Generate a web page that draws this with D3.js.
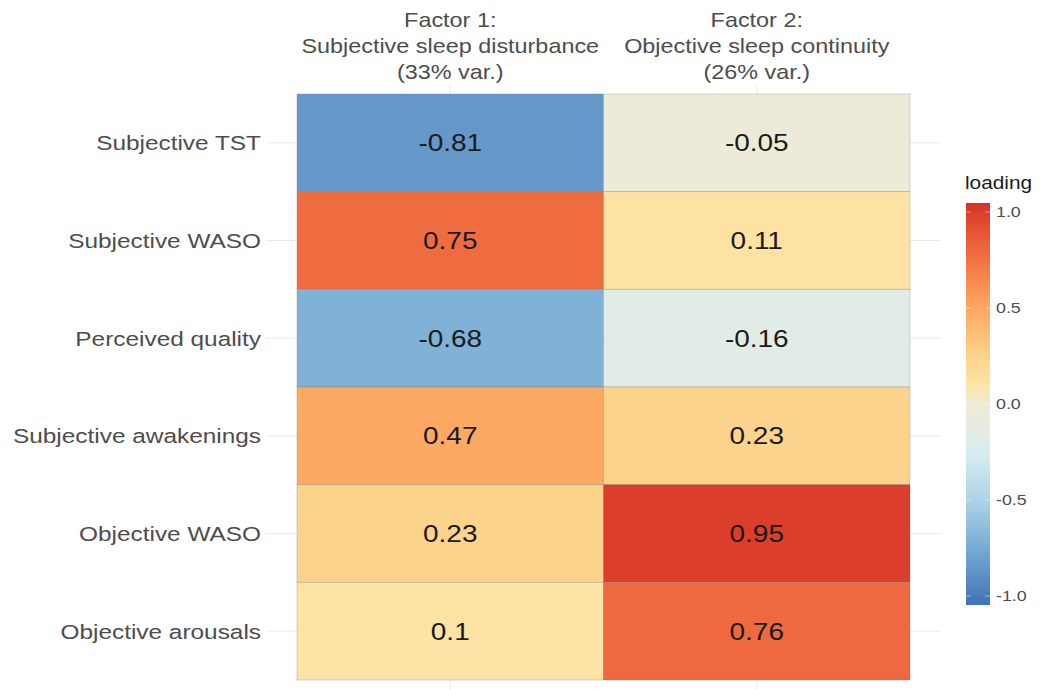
<!DOCTYPE html>
<html><head><meta charset="utf-8">
<script src="https://cdn.jsdelivr.net/npm/d3@7"></script>
<style>body{margin:0;background:#fff;} text{font-family:"Liberation Sans",Arial,sans-serif;}</style>
</head><body><svg id="c" width="1050" height="690"></svg>
<script>
const variables = ["Subjective TST","Subjective WASO","Perceived quality","Subjective awakenings","Objective WASO","Objective arousals"];
const factors = ["Factor 1","Factor 2"];
const factorLabels = [["Factor 1:","Subjective sleep disturbance","(33% var.)"],["Factor 2:","Objective sleep continuity","(26% var.)"]];
const factor1 = [-0.81, 0.75, -0.68, 0.47, 0.23, 0.1];
const factor2 = [-0.05, 0.11, -0.16, 0.23, 0.95, 0.76];
const legendTicks = [1.0, 0.5, 0.0, -0.5, -1.0];
const paletteStops = [-1, -0.75, -0.5, -0.25, 0, 0.1, 0.25, 0.5, 0.75, 1];
const paletteColors = ["#4072b4","#70a5d0","#a8d0e5","#d8ecf2","#f1ebd4","#fde3a6","#fcd188","#fda35e","#ef6b40","#d73027"];

const cells = [];
variables.forEach((v,i)=>{ cells.push({v, f:factors[0], val:factor1[i]}); cells.push({v, f:factors[1], val:factor2[i]}); });

const svg = d3.select("#c");
const color = d3.scaleLinear().domain(paletteStops).range(paletteColors).interpolate(d3.interpolateLab).clamp(true);
const SX = 1.19;

const tileL = 297, tileR = 910, tileT = 94, tileB = 680;
const x = d3.scaleBand().domain(factors).range([tileL, tileR]);
const y = d3.scaleBand().domain(variables).range([tileT, tileB]);
const padX = x.bandwidth()*0.1, padY = y.bandwidth()*0.1;

// grid lines
svg.append("g").selectAll("line").data(variables).join("line")
  .attr("x1", tileL - padX).attr("x2", tileR + padX)
  .attr("y1", d=>y(d)+y.bandwidth()/2).attr("y2", d=>y(d)+y.bandwidth()/2)
  .attr("stroke","#ebebeb").attr("stroke-width",1);
svg.append("g").selectAll("line").data(factors).join("line")
  .attr("x1", d=>x(d)+x.bandwidth()/2).attr("x2", d=>x(d)+x.bandwidth()/2)
  .attr("y1", tileT - padY).attr("y2", tileB + padY)
  .attr("stroke","#ebebeb").attr("stroke-width",1);

// tiles
svg.append("g").selectAll("rect").data(cells).join("rect")
  .attr("x", d=>x(d.f)).attr("y", d=>y(d.v))
  .attr("width", x.bandwidth()).attr("height", y.bandwidth())
  .attr("fill", d=>color(d.val))
  .attr("stroke","rgba(120,110,100,0.35)").attr("stroke-width",0.8);

// values
svg.append("g").selectAll("text").data(cells).join("text")
  .attr("transform", d=>`translate(${x(d.f)+x.bandwidth()/2},${y(d.v)+y.bandwidth()/2}) scale(${SX},1)`)
  .attr("text-anchor","middle").attr("dy","0.36em")
  .attr("font-size",23.5).attr("fill","#1a1a1a")
  .text(d=>String(d.val));

// y labels
svg.append("g").selectAll("text").data(variables).join("text")
  .attr("transform", d=>`translate(261,${y(d)+y.bandwidth()/2}) scale(${SX},1)`)
  .attr("text-anchor","end").attr("dy","0.36em")
  .attr("font-size",20.5).attr("fill","#4d4d4d")
  .text(d=>d);

// x labels (top)
const xl = svg.append("g").selectAll("text").data(factors).join("text")
  .attr("transform", d=>`translate(${x(d)+x.bandwidth()/2},0) scale(${SX-0.02},1)`)
  .attr("text-anchor","middle").attr("font-size",20).attr("fill","#4d4d4d");
xl.each(function(d,i){
  const t = d3.select(this);
  factorLabels[i].forEach((line,k)=>{
    t.append("tspan").attr("x", 0).attr("y", 27 + k*26).text(line);
  });
});

// legend
const lgX = 966, lgW = 24, barT = 203, barB = 605;
const ly = d3.scaleLinear().domain([-1,1]).range([596,212]);
const defs = svg.append("defs");
const grad = defs.append("linearGradient").attr("id","lg").attr("x1",0).attr("x2",0).attr("y1",1).attr("y2",0);
d3.range(0,1.0001,0.025).forEach(t=>{
  const v = -1 + 2*t;
  grad.append("stop").attr("offset", t).attr("stop-color", color(v));
});
svg.append("rect").attr("x",lgX).attr("y",barT).attr("width",lgW).attr("height",barB-barT).attr("fill","url(#lg)");
svg.append("g").selectAll("line").data(legendTicks).join("line")
  .attr("x1",lgX).attr("x2",lgX+5).attr("y1",d=>ly(d)).attr("y2",d=>ly(d))
  .attr("stroke","#fff").attr("stroke-width",0.8).attr("opacity",0.6);
svg.append("g").selectAll("line").data(legendTicks).join("line")
  .attr("x1",lgX+lgW-5).attr("x2",lgX+lgW).attr("y1",d=>ly(d)).attr("y2",d=>ly(d))
  .attr("stroke","#fff").attr("stroke-width",0.8).attr("opacity",0.6);
svg.append("g").selectAll("text").data(legendTicks).join("text")
  .attr("transform", d=>`translate(${lgX+lgW+6},${ly(d)}) scale(${SX},1)`).attr("dy","0.36em")
  .attr("font-size",15).attr("fill","#4d4d4d")
  .text(d=>d3.format(".1f")(d).replace("\u2212","-"));
svg.append("text").attr("transform", `translate(${lgX-1},189) scale(${SX},1)`)
  .attr("font-size",17.5).attr("fill","#1a1a1a").text("loading");
</script></body></html>
